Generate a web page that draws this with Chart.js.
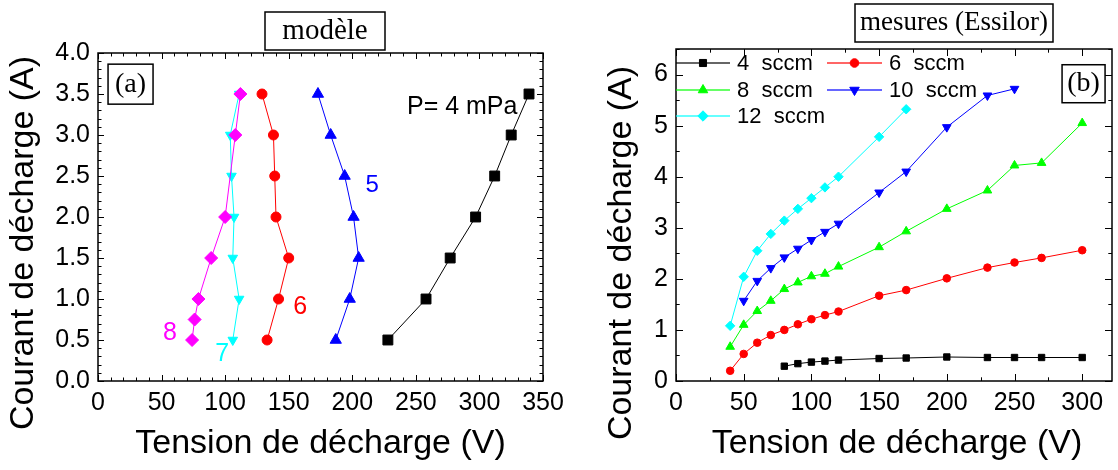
<!DOCTYPE html>
<html>
<head>
<meta charset="utf-8">
<script src="https://cdn.jsdelivr.net/npm/chart.js@4/dist/chart.umd.min.js"></script>
<style>
html, body { margin: 0; padding: 0; background: #fff; }
#wrap { position: relative; width: 1118px; height: 470px; }
canvas { position: absolute; left: 0; top: 0; }
</style>
</head>
<body>
<div id="wrap">
  <canvas id="modele" width="1118" height="470"></canvas>
  <canvas id="mesures" width="1118" height="470"></canvas>
</div>
<script>
// (a) modèle : tension (V) for each current (A)
const currentA = [0.5, 1.0, 1.5, 2.0, 2.5, 3.0, 3.5];
const tension4mPa = [228, 258, 277, 297, 312, 325, 339];
const tension5 = [187, 198, 205, 201, 194, 183, 173];
const tension6 = [133, 142, 150, 140, 139, 138, 129];
const tension7 = [106, 111, 106, 107, 105, 104, 111];
const current8 = [0.5, 0.75, 1.0, 1.5, 2.0, 3.0, 3.5];
const tension8 = [74, 76, 79, 89, 100, 108, 112];
const xTicksA = [0, 50, 100, 150, 200, 250, 300, 350];
const yTicksA = [0, 0.5, 1, 1.5, 2, 2.5, 3, 3.5, 4];

// (b) mesures (Essilor) : current (A) vs tension (V)
const tensionB = [40, 50, 60, 70, 80, 90, 100, 110, 120, 150, 170, 200, 230, 250, 270, 300];
const sccm4  = [null, null, null, null, 0.29, 0.34, 0.37, 0.39, 0.41, 0.44, 0.45, 0.47, 0.46, 0.46, 0.46, 0.46];
const sccm6  = [0.20, 0.53, 0.75, 0.90, 1.00, 1.11, 1.21, 1.29, 1.36, 1.67, 1.78, 2.01, 2.22, 2.32, 2.41, 2.56];
const sccm8  = [0.67, 1.10, 1.37, 1.57, 1.80, 1.93, 2.05, 2.10, 2.24, 2.62, 2.93, 3.37, 3.73, 4.22, 4.27, 5.05];
const sccm10 = [null, 1.57, 1.96, 2.21, 2.42, 2.59, 2.76, 2.92, 3.08, 3.69, 4.10, 4.97, 5.59, 5.72, null, null];
const sccm12 = [1.08, 2.04, 2.55, 2.88, 3.14, 3.37, 3.58, 3.79, 4.00, 4.78, 5.32, null, null, null, null, null];
const xTicksB = [0, 50, 100, 150, 200, 250, 300];
const yTicksB = [0, 1, 2, 3, 4, 5, 6];

const SANS = '"Liberation Sans", Arial, sans-serif';
const SERIF = '"Liberation Serif", "Times New Roman", serif';

function pairs(xs, ys) {
  return xs.map((x, i) => ({ x: x, y: ys[i] })).filter(p => p.y != null);
}

function series(label, data, color, style, radius, rotation) {
  return {
    label: label, data: data, showLine: true,
    borderColor: color, backgroundColor: color, borderWidth: 1,
    pointStyle: style, pointRadius: radius, pointRotation: rotation || 0,
    pointBorderWidth: 1, pointBorderColor: color, pointBackgroundColor: color
  };
}

// frame with inward ticks on all four sides
const frameTicks = {
  id: 'frameTicks',
  afterDraw(chart, args, o) {
    const { ctx, chartArea: a } = chart;
    const x = chart.scales.x, y = chart.scales.y;
    ctx.save();
    ctx.strokeStyle = '#000';
    ctx.lineWidth = 1.5;
    ctx.strokeRect(a.left, a.top, a.right - a.left, a.bottom - a.top);
    ctx.lineWidth = 1;
    ctx.beginPath();
    for (let k = 0; ; k++) {
      const v = x.min + k * o.xMinor;
      if (v > x.max + 1e-9) break;
      const major = Math.abs(v / o.xMajor - Math.round(v / o.xMajor)) < 1e-6;
      const len = major ? o.major : o.minor;
      const px = Math.round(x.getPixelForValue(v)) + 0.5;
      ctx.moveTo(px, a.bottom); ctx.lineTo(px, a.bottom - len);
      ctx.moveTo(px, a.top); ctx.lineTo(px, a.top + len);
    }
    for (let k = 0; ; k++) {
      const v = y.min + k * o.yMinor;
      if (v > y.max + 1e-9) break;
      const major = Math.abs(v / o.yMajor - Math.round(v / o.yMajor)) < 1e-6;
      const len = major ? o.major : o.minor;
      const py = Math.round(y.getPixelForValue(v)) + 0.5;
      ctx.moveTo(a.left, py); ctx.lineTo(a.left + len, py);
      ctx.moveTo(a.right, py); ctx.lineTo(a.right - len, py);
    }
    ctx.stroke();
    ctx.restore();
  }
};

// axis titles, boxed titles and annotations
const texts = {
  id: 'texts',
  afterDraw(chart, args, o) {
    const ctx = chart.ctx;
    const x = chart.scales.x, y = chart.scales.y;
    ctx.save();
    ctx.textAlign = 'center';
    ctx.textBaseline = 'middle';
    o.items.forEach(t => {
      let px = t.px, py = t.py;
      if (t.dx != null) { px = x.getPixelForValue(t.dx); py = y.getPixelForValue(t.dy); }
      ctx.font = t.font;
      ctx.fillStyle = t.color || '#000';
      ctx.save();
      ctx.translate(px, py);
      if (t.rotate) ctx.rotate(t.rotate);
      ctx.textAlign = t.align || 'center';
      ctx.fillText(t.text, 0, 0);
      if (t.box) {
        ctx.strokeStyle = '#000';
        ctx.lineWidth = 1.5;
        ctx.strokeRect(-t.box[0] / 2, -t.box[1] / 2, t.box[0], t.box[1]);
      }
      ctx.restore();
    });
    ctx.restore();
  }
};

// legend drawn inside the plot area of (b)
const innerLegend = {
  id: 'innerLegend',
  afterDraw(chart, args, o) {
    const ctx = chart.ctx;
    ctx.save();
    ctx.font = o.font;
    ctx.textBaseline = 'middle';
    ctx.textAlign = 'left';
    chart.data.datasets.forEach((ds, i) => {
      const p = o.slots[i];
      ctx.globalAlpha = 0.6;
      ctx.strokeStyle = ds.borderColor;
      ctx.lineWidth = 2;
      ctx.beginPath();
      ctx.moveTo(p[0], p[2]); ctx.lineTo(p[1], p[2]);
      ctx.stroke();
      ctx.globalAlpha = 1;
      ctx.fillStyle = ds.backgroundColor;
      ctx.strokeStyle = ds.borderColor;
      ctx.lineWidth = 1;
      Chart.helpers.drawPoint(ctx, { pointStyle: ds.pointStyle, radius: ds.pointRadius + 0.5,
        rotation: ds.pointRotation, borderWidth: 1 }, (p[0] + p[1]) / 2, p[2]);
      ctx.fillStyle = '#000';
      ctx.fillText(ds.label, p[1] + 7, p[2] + 1);
    });
    ctx.restore();
  }
};

function axes(xMin, xMax, xTicks, yMin, yMax, yTicks, yWidth, yFmt) {
  const tickFont = { family: SANS, size: 25 };
  return {
    x: {
      type: 'linear', min: xMin, max: xMax,
      grid: { display: false, drawTicks: false }, border: { display: false },
      ticks: { font: tickFont, color: '#000', padding: 7, maxRotation: 0, autoSkip: false },
      afterBuildTicks: s => { s.ticks = xTicks.map(v => ({ value: v })); },
      afterFit: s => { s.height = 89; }
    },
    y: {
      type: 'linear', min: yMin, max: yMax,
      grid: { display: false, drawTicks: false }, border: { display: false },
      ticks: { font: tickFont, color: '#000', padding: 8, autoSkip: false, callback: yFmt },
      afterBuildTicks: s => { s.ticks = yTicks.map(v => ({ value: v })); },
      afterFit: s => { s.width = yWidth; }
    }
  };
}

new Chart(document.getElementById('modele'), {
  type: 'scatter',
  data: {
    datasets: [
      series('8', pairs(tension8, current8), '#ff00ff', 'rectRot', 6.5),
      series('7', pairs(tension7, currentA), '#00ffff', 'triangle', 5.5, 180),
      series('6', pairs(tension6, currentA), '#ff0000', 'circle', 5),
      series('5', pairs(tension5, currentA), '#0000ff', 'triangle', 6.5),
      series('4 mPa', pairs(tension4mPa, currentA), '#000000', 'rect', 7)
    ]
  },
  options: {
    responsive: false, animation: false,
    layout: { padding: { left: 0, top: 53, right: 1118 - 543, bottom: 0 } },
    scales: axes(0, 350, xTicksA, 0, 4, yTicksA, 98, v => v.toFixed(1)),
    plugins: {
      legend: { display: false }, tooltip: { enabled: false },
      frameTicks: { xMajor: 50, xMinor: 10, yMajor: 0.5, yMinor: 0.1, major: 6, minor: 3.5 },
      texts: { items: [
        { text: 'Courant de décharge (A)', px: 24, py: 243, rotate: -Math.PI / 2, font: '34px ' + SANS },
        { text: 'Tension de décharge (V)', px: 320.5, py: 444, font: '34px ' + SANS },
        { text: 'modèle', px: 325, py: 31, font: '29px ' + SERIF, box: [120, 38] },
        { text: '(a)', dx: 25.6, dy: 3.62, font: '28px ' + SERIF, box: [45, 40] },
        { text: 'P= 4 mPa', dx: 243, dy: 3.34, align: 'left', font: '25px ' + SANS },
        { text: '5', dx: 215.6, dy: 2.39, color: '#0000ff', font: '24px ' + SANS },
        { text: '6', dx: 159, dy: 0.9, color: '#ff0000', font: '25px ' + SANS },
        { text: '7', dx: 97.6, dy: 0.33, color: '#00ffff', font: '25px ' + SANS },
        { text: '8', dx: 56.6, dy: 0.585, color: '#ff00ff', font: '25px ' + SANS }
      ] }
    }
  },
  plugins: [frameTicks, texts]
});

new Chart(document.getElementById('mesures'), {
  type: 'scatter',
  data: {
    datasets: [
      series('4  sccm', pairs(tensionB, sccm4), '#000000', 'rect', 4.5),
      series('6  sccm', pairs(tensionB, sccm6), '#ff0000', 'circle', 3.8),
      series('8  sccm', pairs(tensionB, sccm8), '#00ff00', 'triangle', 5),
      series('10  sccm', pairs(tensionB, sccm10), '#0000ff', 'triangle', 5, 180),
      series('12  sccm', pairs(tensionB, sccm12), '#00ffff', 'rectRot', 4.7)
    ]
  },
  options: {
    responsive: false, animation: false,
    layout: { padding: { left: 600, top: 49, right: 1, bottom: 0 } },
    scales: axes(0, 322, xTicksB, 0, 6.5, yTicksB, 76, v => String(v)),
    plugins: {
      legend: { display: false }, tooltip: { enabled: false },
      frameTicks: { xMajor: 50, xMinor: 25, yMajor: 1, yMinor: 0.5, major: 7, minor: 3.7 },
      innerLegend: { font: '22px ' + SANS, slots: [
        [676, 730, 63], [827, 882, 63], [676, 730, 90], [827, 882, 90], [676, 730, 116]
      ] },
      texts: { items: [
        { text: 'Courant de décharge (A)', px: 622, py: 253, rotate: -Math.PI / 2, font: '34px ' + SANS },
        { text: 'Tension de décharge (V)', px: 897, py: 444, font: '34px ' + SANS },
        { text: 'mesures (Essilor)', px: 954, py: 23, font: '27px ' + SERIF, box: [198, 38] },
        { text: '(b)', dx: 301, dy: 5.82, font: '28px ' + SERIF, box: [43, 38] }
      ] }
    }
  },
  plugins: [frameTicks, texts, innerLegend]
});
</script>
</body>
</html>
